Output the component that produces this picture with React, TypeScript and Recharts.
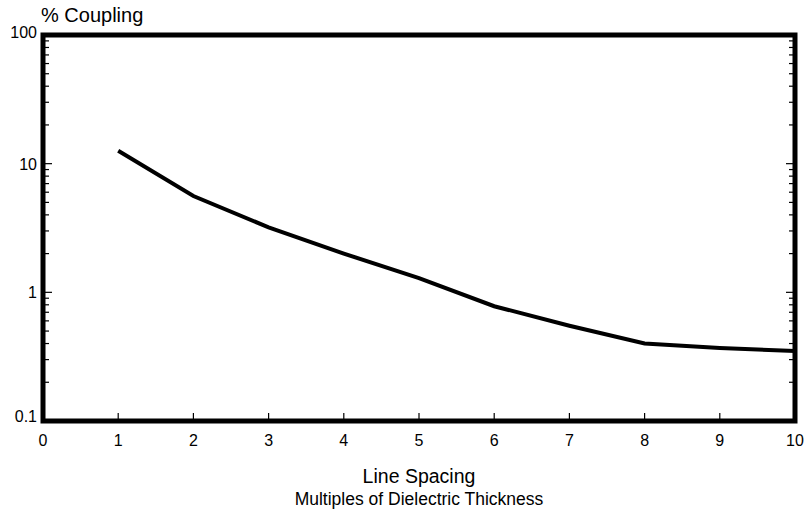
import React from "react";
import { LineChart, Line, XAxis, YAxis, ReferenceArea } from "recharts";

const spacing = [1, 2, 3, 4, 5, 6, 7, 8, 9, 10];
const coupling = [12.6, 5.6, 3.2, 2.0, 1.29, 0.78, 0.55, 0.4, 0.37, 0.35];
const xTicks = [0, 1, 2, 3, 4, 5, 6, 7, 8, 9, 10];
const yTicks = [
  0.1, 0.2, 0.3, 0.4, 0.5, 0.6, 0.7, 0.8, 0.9,
  1, 2, 3, 4, 5, 6, 7, 8, 9,
  10, 20, 30, 40, 50, 60, 70, 80, 90, 100,
];
const majorY = [0.1, 1, 10, 100];

const data = spacing.map((x, i) => ({ x, y: coupling[i] }));

const FONT = "'Liberation Sans', Arial, sans-serif";

const CHART_W = 804;
const CHART_H = 516;
const MARGIN = { top: 35, right: 9, bottom: 94, left: 0 };
const Y_AXIS_W = 43;
const PLOT_W = CHART_W - MARGIN.left - MARGIN.right - Y_AXIS_W;

const isMajor = (v: number) => majorY.some((m) => Math.abs(m - v) < 1e-9);

const LeftTick = (props: any) => {
  const { x, y, payload } = props;
  const v = payload.value;
  const major = isMajor(v);
  const len = major ? 9 : 6;
  const rx = x + PLOT_W;
  let dy = 6;
  if (v === 100) dy = 3;
  if (v === 0.1) dy = 1;
  const inner = v !== 0.1 && v !== 100;
  return (
    <g>
      {inner && <line x1={x} x2={x + len} y1={y} y2={y} stroke="#000" strokeWidth={1.2} />}
      {inner && <line x1={rx} x2={rx - len} y1={y} y2={y} stroke="#000" strokeWidth={1.2} />}
      {major && (
        <text x={x - 6} y={y + dy} textAnchor="end" fontSize={16} fontFamily={FONT} fill="#000">
          {String(v)}
        </text>
      )}
    </g>
  );
};

const BottomTick = (props: any) => {
  const { x, y, payload } = props;
  const v = payload.value;
  return (
    <g>
      {v !== 0 && v !== 10 && (
        <line x1={x} x2={x} y1={y} y2={y - 8} stroke="#000" strokeWidth={1.2} />
      )}
      <text x={x} y={y + 25} textAnchor="middle" fontSize={16} fontFamily={FONT} fill="#000">
        {String(v)}
      </text>
    </g>
  );
};

export default function App() {
  return (
    <div style={{ position: "absolute", left: 0, top: 0, width: CHART_W, height: CHART_H, background: "#fff" }}>
      <LineChart width={CHART_W} height={CHART_H} data={data} margin={MARGIN}>
        <ReferenceArea
          yAxisId="left"
          x1={0}
          x2={10}
          y1={0.1}
          y2={100}
          fill="none"
          fillOpacity={0}
          stroke="#000"
          strokeWidth={5}
          ifOverflow="visible"
        />
        <XAxis
          dataKey="x"
          type="number"
          domain={[0, 10]}
          ticks={xTicks}
          interval={0}
          height={1}
          tickSize={0}
          tickMargin={0}
          axisLine={false}
          tickLine={false}
          tick={<BottomTick />}
        />
        <YAxis
          yAxisId="left"
          type="number"
          scale="log"
          domain={[0.1, 100]}
          allowDataOverflow
          ticks={yTicks}
          interval={0}
          width={Y_AXIS_W}
          tickSize={0}
          tickMargin={0}
          axisLine={false}
          tickLine={false}
          tick={<LeftTick />}
        />
        <Line
          yAxisId="left"
          type="linear"
          dataKey="y"
          stroke="#000"
          strokeWidth={4}
          dot={false}
          isAnimationActive={false}
        />
      </LineChart>
      <div
        style={{
          position: "absolute",
          left: 41,
          top: 3,
          fontFamily: FONT,
          fontSize: 20,
          lineHeight: "24px",
          color: "#000",
          whiteSpace: "nowrap",
        }}
      >
        % Coupling
      </div>
      <svg
        width={CHART_W}
        height={CHART_H}
        style={{ position: "absolute", left: 0, top: 0, pointerEvents: "none" }}
      >
        <text x={419} y={483} textAnchor="middle" fontSize={19.5} fontFamily={FONT} fill="#000">
          Line Spacing
        </text>
        <text x={419} y={505} textAnchor="middle" fontSize={17.5} fontFamily={FONT} fill="#000">
          Multiples of Dielectric Thickness
        </text>
      </svg>
    </div>
  );
}
